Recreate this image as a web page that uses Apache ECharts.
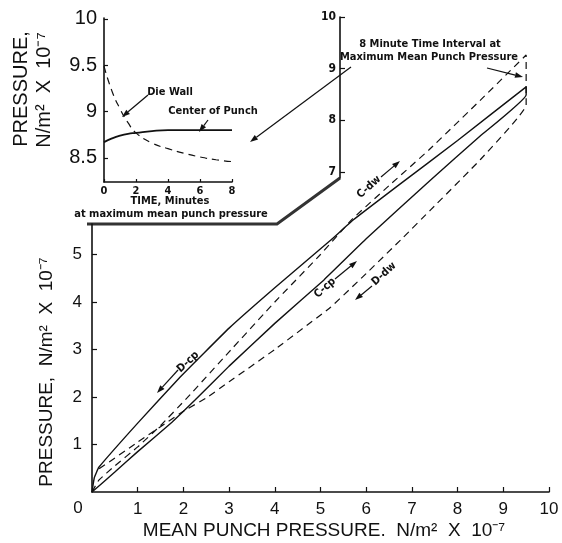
<!DOCTYPE html>
<html>
<head>
<meta charset="utf-8">
<title>Punch and die wall pressure</title>
<script src="https://cdn.jsdelivr.net/npm/echarts@6/dist/echarts.min.js"></script>
<style>html,body{margin:0;background:#fff;}</style>
</head>
<body>
<div id="container" style="width:562px;height:543px;"></div>
<script>
// main plot, x = mean punch pressure, y = pressure (N/m2 x 10^-7)
var loadPunch = [[0,0],[0.5,0.42],[1,0.85],[1.75,1.47],[2.26,1.94],[3,2.65],[4,3.55],[5.07,4.46],[6,5.33],[7.41,6.57],[8.5,7.5],[9.5,8.36]];
var unloadPunch = [[9.5,8.53],[8,7.4],[6.71,6.46],[5.72,5.73],[5.22,5.3],[4,4.3],[3,3.45],[1.93,2.42],[1,1.45],[0.15,0.52],[0.05,0.3],[0,0]];
var loadWall = [[0,0],[0.15,0.25],[0.5,0.55],[1,0.95],[1.5,1.4],[2.08,1.98],[3,2.95],[4,4.0],[5,5.0],[5.7,5.75],[6.5,6.45],[7.37,7.2],[8.5,8.25],[9.5,9.2]];
var unloadWall = [[9.5,8.15],[8.5,7.0],[7.41,5.94],[6.8,5.35],[6,4.6],[5.22,3.89],[4,3.0],[3,2.32],[2.5,1.98],[2,1.7],[1,1.05],[0.1,0.45]];

// inset, 8 minute hold at maximum mean punch pressure
var holdMinutes = [0,0.5,1,1.5,2,3,4,5,6,7,8];
var dieWall = [9.49,9.22,9.03,8.88,8.77,8.66,8.6,8.55,8.51,8.48,8.46];
var centerPunch = [8.67,8.71,8.74,8.76,8.77,8.79,8.8,8.8,8.8,8.8,8.8];

// tick labels
var mainXTicks = [1,2,3,4,5,6,7,8,9,10];
var mainYTicks = [1,2,3,4,5];
var insetXTicks = [0,2,4,6,8];
var insetYTicks = [8.5,9,9.5,10];
var upperYTicks = [7,8,9,10];

var INK = '#111';
var SANS = '"Liberation Sans", Arial, sans-serif';
var NARROW = '"Liberation Sans Narrow", "DejaVu Sans Condensed", sans-serif';

function zip(xs, ys) {
    return xs.map(function (x, i) { return [x, ys[i]]; });
}

function axisStyle(ticks, labelOpt, tickLen) {
    return {
        axisLine: { show: true, onZero: false, lineStyle: { color: INK, width: 1.6 } },
        axisTick: { show: true, inside: true, length: tickLen, customValues: ticks, lineStyle: { color: INK, width: 1.2 } },
        axisLabel: Object.assign({ customValues: ticks, color: INK }, labelOpt),
        splitLine: { show: false }
    };
}

function text(str, x, y, font, rot, align) {
    return {
        type: 'text', x: x, y: y, rotation: rot || 0,
        style: { text: str, font: font, fill: INK, align: align || 'center', verticalAlign: 'middle' }
    };
}

function arrow(x1, y1, x2, y2) {
    var a = Math.atan2(y2 - y1, x2 - x1), L = 8, W = 2.8;
    var bx = x2 - L * Math.cos(a), by = y2 - L * Math.sin(a);
    return [
        { type: 'line', shape: { x1: x1, y1: y1, x2: bx, y2: by }, style: { stroke: INK, lineWidth: 1.2 } },
        { type: 'polygon', shape: { points: [[x2, y2], [bx + W * Math.sin(a), by - W * Math.cos(a)], [bx - W * Math.sin(a), by + W * Math.cos(a)]] }, style: { fill: INK } }
    ];
}

var bold11 = 'bold 11px ' + NARROW;
var ang = 42 * Math.PI / 180;
var unitText = 'N/m\u00b2  X  10\u207b\u2077';

var graphics = [
    // axis break between the main plot and the upper part
    { type: 'polyline', shape: { points: [[87, 224], [277, 224], [340, 178]] }, style: { stroke: '#333', lineWidth: 3, fill: null } },
    text('0', 78, 508, '17px ' + SANS),
    text('MEAN PUNCH PRESSURE.  ' + unitText, 324, 531, '19px ' + SANS),
    text('PRESSURE,  ' + unitText, 47, 372, '19px ' + SANS, Math.PI / 2),
    text('PRESSURE,', 21, 89, '20px ' + SANS, Math.PI / 2),
    text(unitText, 44, 90, '20px ' + SANS, Math.PI / 2),
    text('TIME, Minutes', 170, 201, bold11),
    text('at maximum mean punch pressure', 171, 214, bold11),
    text('Die Wall', 170, 92, bold11),
    text('Center of Punch', 213, 111, bold11),
    text('8 Minute Time Interval at', 430, 44, bold11),
    text('Maximum Mean Punch Pressure', 429, 57, bold11),
    text('C-dw', 369, 187, bold11, ang),
    text('C-cp', 325, 288, bold11, ang),
    text('D-dw', 384, 274, bold11, ang),
    text('D-cp', 188, 362, bold11, ang)
];
graphics = graphics.concat(
    arrow(148, 95, 122, 117),
    arrow(208, 120, 199, 132),
    arrow(351, 67, 250, 142),
    arrow(487, 68, 523, 77),
    arrow(381, 177, 400, 161),
    arrow(335, 279, 357, 261),
    arrow(372, 286, 355, 300),
    arrow(178, 370, 157, 393)
);

var container = document.getElementById('container');
var chart = echarts.init(container);

chart.setOption({
    animation: false,
    backgroundColor: '#fff',
    grid: [
        { left: 92, right: 13, top: 224, bottom: 51 },   // main axes
        { left: 92, right: 13, top: 17, bottom: 51 },    // curves, 0..10 over the full height
        { left: 104, top: 18, width: 128, height: 164 }, // inset
        { left: 340, top: 17, width: 20, height: 161 }   // upper scale 7..10
    ],
    xAxis: [
        Object.assign({ type: 'value', gridIndex: 0, min: 0, max: 10 },
            axisStyle(mainXTicks, { fontSize: 17, fontFamily: SANS, margin: 9 }, 5)),
        { type: 'value', gridIndex: 1, min: 0, max: 10, show: false },
        Object.assign({ type: 'value', gridIndex: 2, min: 0, max: 8, interval: 2 },
            axisStyle(insetXTicks, { fontSize: 11, fontWeight: 'bold', fontFamily: NARROW, margin: 4 }, 3)),
        { type: 'value', gridIndex: 3, min: 0, max: 1, show: false }
    ],
    yAxis: [
        Object.assign({ type: 'value', gridIndex: 0, min: 0, max: 5.64 },
            axisStyle(mainYTicks, { fontSize: 17, fontFamily: SANS, margin: 10 }, 5)),
        { type: 'value', gridIndex: 1, min: 0, max: 10, show: false },
        Object.assign({ type: 'value', gridIndex: 2, min: 8.24, max: 10.01 },
            axisStyle(insetYTicks, { fontSize: 20, fontFamily: SANS, margin: 7 }, 4)),
        Object.assign({ type: 'value', gridIndex: 3, min: 6.884, max: 10 },
            axisStyle(upperYTicks, { fontSize: 12, fontWeight: 'bold', fontFamily: NARROW, margin: 4 }, 5))
    ],
    series: [
        {
            name: 'Center of Punch', type: 'line', xAxisIndex: 1, yAxisIndex: 1,
            data: loadPunch.concat(unloadPunch), showSymbol: false, smooth: 0.1,
            lineStyle: { color: INK, width: 1.4 }
        },
        {
            name: 'Die Wall', type: 'line', xAxisIndex: 1, yAxisIndex: 1,
            data: loadWall.concat(unloadWall), showSymbol: false, smooth: 0.1,
            lineStyle: { color: INK, width: 1.2, type: [7, 5] }
        },
        {
            name: 'Die Wall (hold)', type: 'line', xAxisIndex: 2, yAxisIndex: 2,
            data: zip(holdMinutes, dieWall), showSymbol: false, smooth: true,
            lineStyle: { color: INK, width: 1.2, type: [7, 5] }
        },
        {
            name: 'Center of Punch (hold)', type: 'line', xAxisIndex: 2, yAxisIndex: 2,
            data: zip(holdMinutes, centerPunch), showSymbol: false, smooth: true,
            lineStyle: { color: INK, width: 1.8 }
        }
    ],
    graphic: graphics
});
</script>
</body>
</html>
